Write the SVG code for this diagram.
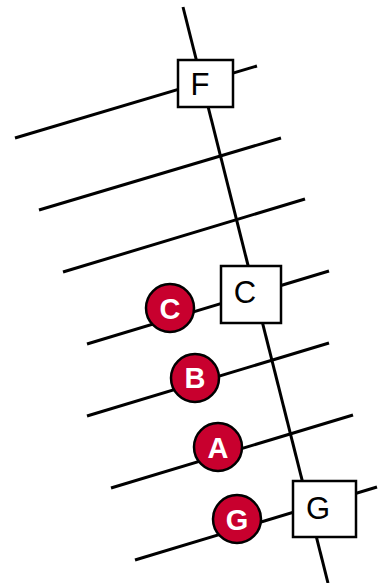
<svg xmlns="http://www.w3.org/2000/svg" width="378" height="583" viewBox="0 0 378 583">
<style>
.ln{stroke:#000;stroke-width:3;fill:none;stroke-linecap:butt}
.box{fill:#fff;stroke:#000;stroke-width:2.5}
.bt{font-family:"Liberation Sans",Arial,sans-serif;font-size:31px;fill:#000;text-anchor:middle}
.dot{fill:#c8002e;stroke:#000;stroke-width:2.5}
.dt{font-family:"Liberation Sans",Arial,sans-serif;font-size:29px;font-weight:bold;fill:#fff;text-anchor:middle}
</style>
<g id="connectors">
<line class="ln" x1="183" y1="7" x2="328" y2="583"/>
<line class="ln" x1="15" y1="138" x2="257" y2="66"/>
<line class="ln" x1="39" y1="210" x2="281" y2="138"/>
<line class="ln" x1="63" y1="272" x2="305" y2="199"/>
<line class="ln" x1="87" y1="344" x2="329" y2="271"/>
<line class="ln" x1="87" y1="416" x2="329" y2="343"/>
<line class="ln" x1="111" y1="488" x2="353" y2="415"/>
<line class="ln" x1="135" y1="560" x2="377" y2="487"/>
</g>
<g id="F"><rect class="box" x="178" y="60" width="55" height="47"/><text class="bt" x="200" y="95">F</text></g>
<g id="Cbox"><rect class="box" x="221" y="266" width="60" height="57"/><text class="bt" x="245" y="303">C</text></g>
<g id="Gbox"><rect class="box" x="293" y="481" width="63" height="56"/><text class="bt" x="318" y="519">G</text></g>
<g id="Cdot"><circle class="dot" cx="170" cy="308" r="24"/><text class="dt" x="170" y="318.5">C</text></g>
<g id="Bdot"><circle class="dot" cx="195" cy="378" r="24"/><text class="dt" x="195" y="387.5">B</text></g>
<g id="Adot"><circle class="dot" cx="218" cy="447" r="24"/><text class="dt" x="218" y="457.5">A</text></g>
<g id="Gdot"><circle class="dot" cx="237" cy="519" r="24"/><text class="dt" x="237" y="529.5">G</text></g>
</svg>
